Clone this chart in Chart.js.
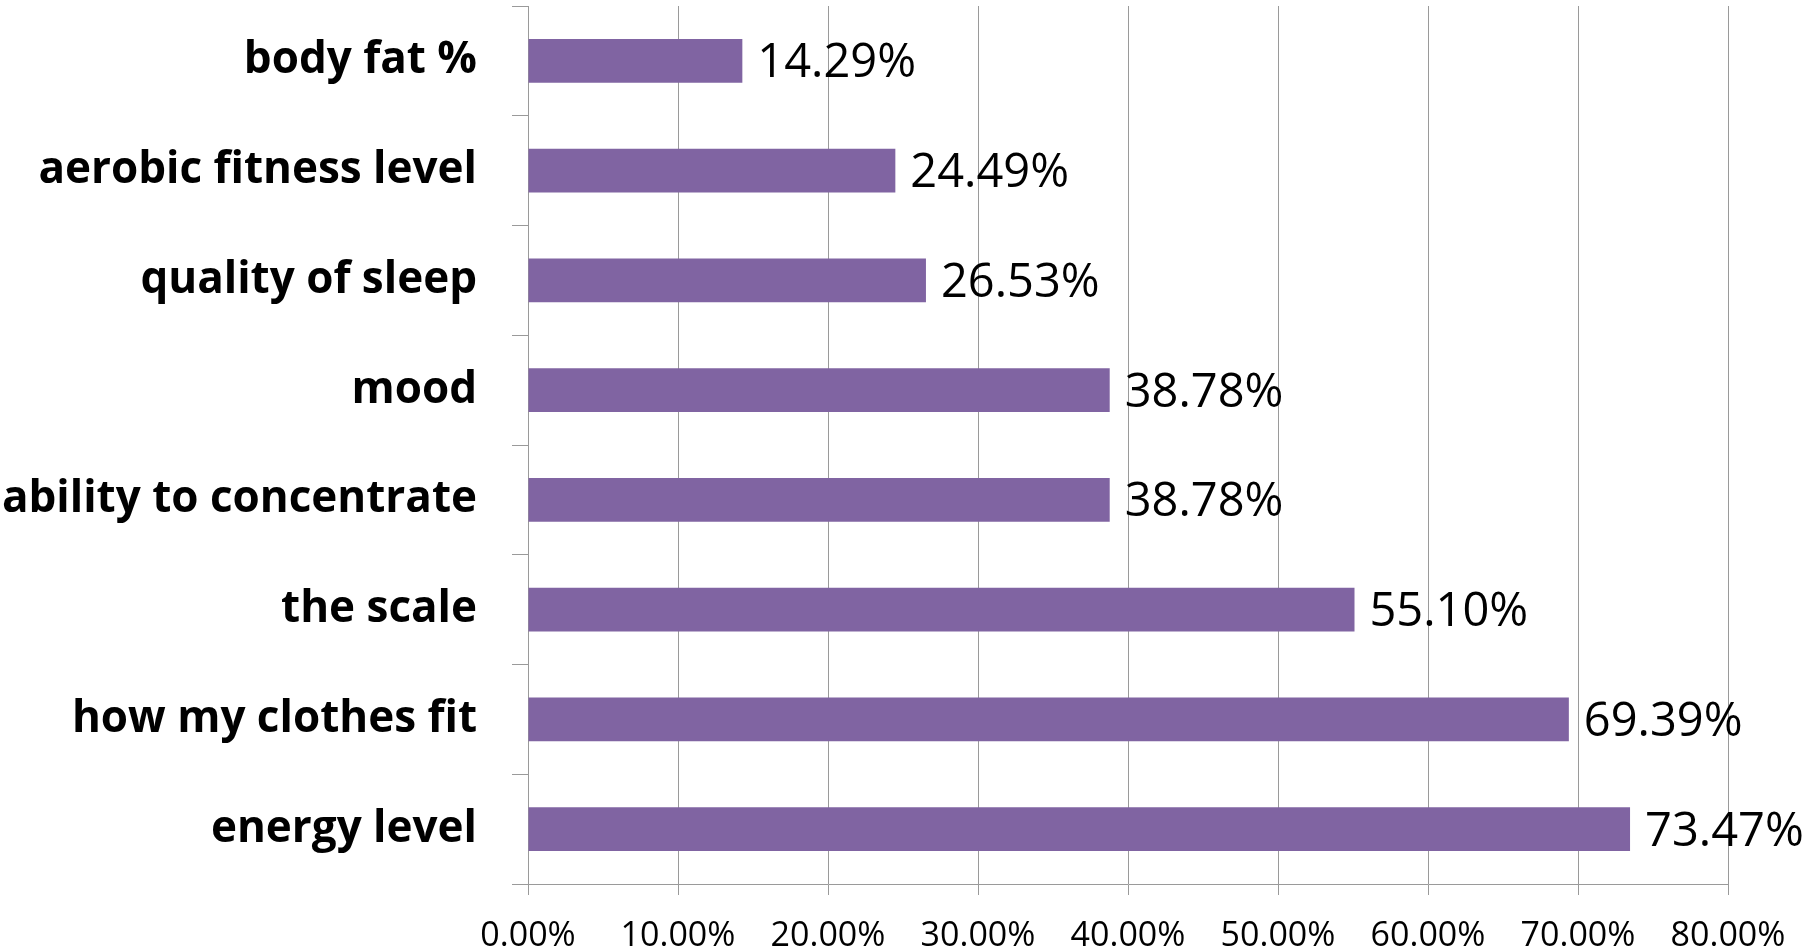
<!DOCTYPE html>
<html lang="en">
<head>
    <meta charset="UTF-8">
    <title>What improved</title>
    <style>
        body { margin: 0; background: #fff; }
        #wrap { width: 1808px; height: 951px; }
    </style>
</head>
<body>
    <div id="wrap">
        <canvas id="barChart" width="1808" height="951"></canvas>
    </div>

    <script src="https://cdn.jsdelivr.net/npm/chart.js"></script>
    <script>
        // data (top to bottom)
        const categories = ['body fat %', 'aerobic fitness level', 'quality of sleep', 'mood',
            'ability to concentrate', 'the scale', 'how my clothes fit', 'energy level'];
        const percentValues = [14.29, 24.49, 26.53, 38.78, 38.78, 55.10, 69.39, 73.47];
        const xTickValues = [0, 10, 20, 30, 40, 50, 60, 70, 80];

        const gridGray = '#9a9a9a';

        // draws the value next to each bar
        const valueLabels = {
            id: 'valueLabels',
            afterDatasetsDraw(chart) {
                const c = chart.ctx;
                const meta = chart.getDatasetMeta(0);
                c.save();
                c.font = '47px "Open Sans"';
                c.fillStyle = '#000';
                c.textAlign = 'left';
                c.textBaseline = 'middle';
                meta.data.forEach((bar, i) => {
                    c.fillText(percentValues[i].toFixed(2) + '%', bar.x + 15, bar.y + 3);
                });
                c.restore();
            }
        };

        const ctx = document.getElementById('barChart').getContext('2d');
        new Chart(ctx, {
            type: 'bar',
            data: {
                labels: categories,
                datasets: [{
                    data: percentValues,
                    backgroundColor: '#8064A2',
                    barPercentage: 0.4,
                    categoryPercentage: 1
                }]
            },
            options: {
                indexAxis: 'y',
                responsive: false,
                animation: false,
                layout: { padding: { top: 6, right: 80, left: 0, bottom: 0 } },
                plugins: {
                    legend: { display: false },
                    tooltip: { enabled: false }
                },
                scales: {
                    x: {
                        min: 0,
                        max: 80,
                        afterBuildTicks: (scale) => {
                            scale.ticks = xTickValues.map(v => ({ value: v }));
                        },
                        afterFit: (scale) => { scale.height = 67; },
                        ticks: {
                            padding: 21,
                            color: '#000',
                            font: { family: 'Open Sans', size: 34 },
                            maxRotation: 0,
                            callback: (v) => v.toFixed(2) + '%'
                        },
                        grid: { color: gridGray, lineWidth: 1, tickLength: 11 },
                        border: { color: gridGray }
                    },
                    y: {
                        afterFit: (scale) => {
                            scale.width = 528;
                            scale.paddingTop = 0;
                            scale.paddingBottom = 0;
                        },
                        ticks: {
                            padding: 35,
                            color: '#000',
                            font: { family: 'Open Sans', size: 44, weight: 'bold' }
                        },
                        grid: { drawOnChartArea: false, color: gridGray, tickLength: 16 },
                        border: { color: gridGray }
                    }
                }
            },
            plugins: [valueLabels]
        });
    </script>
</body>
</html>
